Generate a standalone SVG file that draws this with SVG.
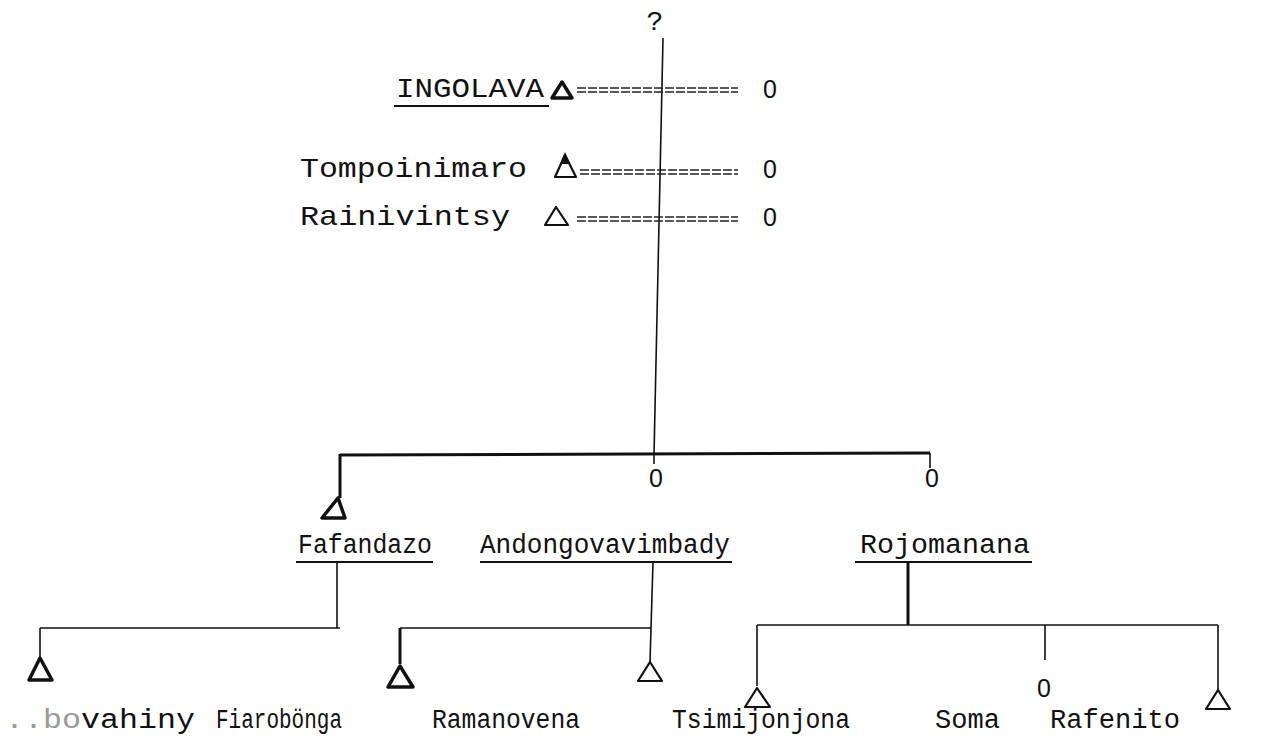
<svg xmlns="http://www.w3.org/2000/svg" width="1286" height="742" viewBox="0 0 1286 742">
<style>
.t{font-family:"Liberation Mono","DejaVu Sans Mono",monospace;font-size:27px;fill:#111}
.tb{font-family:"Liberation Mono","DejaVu Sans Mono",monospace;font-size:28px;fill:#111}
.z{font-family:"Liberation Sans",sans-serif;font-size:25px;fill:#111;text-anchor:middle}
.ln{stroke:#111;stroke-width:1.6;fill:none}
.bold{stroke:#111;stroke-width:3;fill:none}
.tri{stroke:#111;stroke-width:2.2;fill:none;stroke-linejoin:round}
.tri3{stroke:#111;stroke-width:3.5;fill:none;stroke-linejoin:round}
.eq{stroke:#222;stroke-width:1.6;stroke-dasharray:9 2;fill:none}
.ul{stroke:#111;stroke-width:2;fill:none}
</style>
<rect width="1286" height="742" fill="#fff"/>
<g id="connectors">
<line class="ln" x1="663" y1="38" x2="654" y2="455"/>
<line class="bold" x1="340" y1="455" x2="930" y2="453"/>
<line class="bold" x1="340" y1="454" x2="340" y2="498"/>
<line class="ln" x1="654" y1="454" x2="654" y2="464"/>
<line class="ln" x1="930" y1="453" x2="930" y2="468"/>
<line class="ln" x1="337" y1="562" x2="337" y2="628"/>
<line class="ln" x1="40" y1="628" x2="340" y2="628"/>
<line class="ln" x1="40" y1="628" x2="40" y2="658"/>
<line class="ln" x1="653" y1="562" x2="650" y2="662"/>
<line class="ln" x1="400" y1="628" x2="651" y2="628"/>
<line class="bold" x1="400" y1="628" x2="400" y2="664"/>
<line class="bold" x1="908" y1="562" x2="908" y2="625"/>
<line class="ln" x1="757" y1="625" x2="1218" y2="625"/>
<line class="ln" x1="757" y1="625" x2="757" y2="686"/>
<line class="ln" x1="1045" y1="625" x2="1045" y2="660"/>
<line class="ln" x1="1218" y1="625" x2="1218" y2="690"/>
</g>
<g id="top-q"><text class="tb" x="655" y="30" text-anchor="middle">?</text></g>
<g id="ingolava">
<text class="tb" x="396" y="97" textLength="148" lengthAdjust="spacingAndGlyphs">INGOLAVA</text>
<line class="ul" x1="394" y1="106" x2="549" y2="106"/>
<polygon class="tri3" points="562,82 552,98 572,98"/>
<line class="eq" x1="577" y1="88" x2="738" y2="88"/>
<line class="eq" x1="577" y1="92" x2="738" y2="92"/>
<text class="z" x="770" y="98">0</text>
</g>
<g id="tompoinimaro">
<text class="tb" x="300" y="177" textLength="227" lengthAdjust="spacingAndGlyphs">Tompoinimaro</text>
<polygon class="tri" points="565,155 555,177 576,177"/>
<polygon points="565,152 560,164 570,164" fill="#111"/>
<line class="eq" x1="580" y1="170" x2="738" y2="170"/>
<line class="eq" x1="580" y1="174" x2="738" y2="174"/>
<text class="z" x="770" y="178">0</text>
</g>
<g id="rainivintsy">
<text class="tb" x="300" y="225" textLength="210" lengthAdjust="spacingAndGlyphs">Rainivintsy</text>
<polygon class="tri" points="556,207 545,225 568,225"/>
<line class="eq" x1="577" y1="217" x2="738" y2="217"/>
<line class="eq" x1="577" y1="221" x2="738" y2="221"/>
<text class="z" x="770" y="226">0</text>
</g>
<g id="fafandazo">
<polygon class="tri3" points="338,498 322,518 345,518"/>
<text class="t" x="298" y="553" textLength="134" lengthAdjust="spacingAndGlyphs">Fafandazo</text>
<line class="ul" x1="296" y1="562" x2="433" y2="562"/>
</g>
<g id="andongovavimbady">
<text class="z" x="656" y="487">0</text>
<text class="t" x="480" y="553" textLength="250" lengthAdjust="spacingAndGlyphs">Andongovavimbady</text>
<line class="ul" x1="480" y1="562" x2="732" y2="562"/>
</g>
<g id="rojomanana">
<text class="z" x="932" y="487">0</text>
<text class="t" x="860" y="553" textLength="170" lengthAdjust="spacingAndGlyphs">Rojomanana</text>
<line class="ul" x1="855" y1="562" x2="1032" y2="562"/>
</g>
<g id="bovahiny">
<polygon class="tri3" points="40,658 29,680 52,680"/>
<text class="t" x="5" y="728" textLength="190" lengthAdjust="spacingAndGlyphs"><tspan fill="#999">..bo</tspan>vahiny</text>
</g>
<g id="fiarobonga">
<polygon class="tri3" points="400,666 388,687 413,687"/>
<text class="t" x="216" y="728" textLength="126" lengthAdjust="spacingAndGlyphs">Fiarobönga</text>
</g>
<g id="ramanovena">
<polygon class="tri" points="650,662 638,681 662,681"/>
<text class="t" x="432" y="728" textLength="148" lengthAdjust="spacingAndGlyphs">Ramanovena</text>
</g>
<g id="tsimijonjona">
<polygon class="tri" points="757,688 745,707 770,707"/>
<text class="t" x="672" y="728" textLength="178" lengthAdjust="spacingAndGlyphs">Tsimijonjona</text>
</g>
<g id="soma">
<text class="z" x="1044" y="697">0</text>
<text class="t" x="935" y="728" textLength="65" lengthAdjust="spacingAndGlyphs">Soma</text>
</g>
<g id="rafenito">
<polygon class="tri" points="1218,690 1206,709 1230,709"/>
<text class="t" x="1050" y="728" textLength="130" lengthAdjust="spacingAndGlyphs">Rafenito</text>
</g>
</svg>
